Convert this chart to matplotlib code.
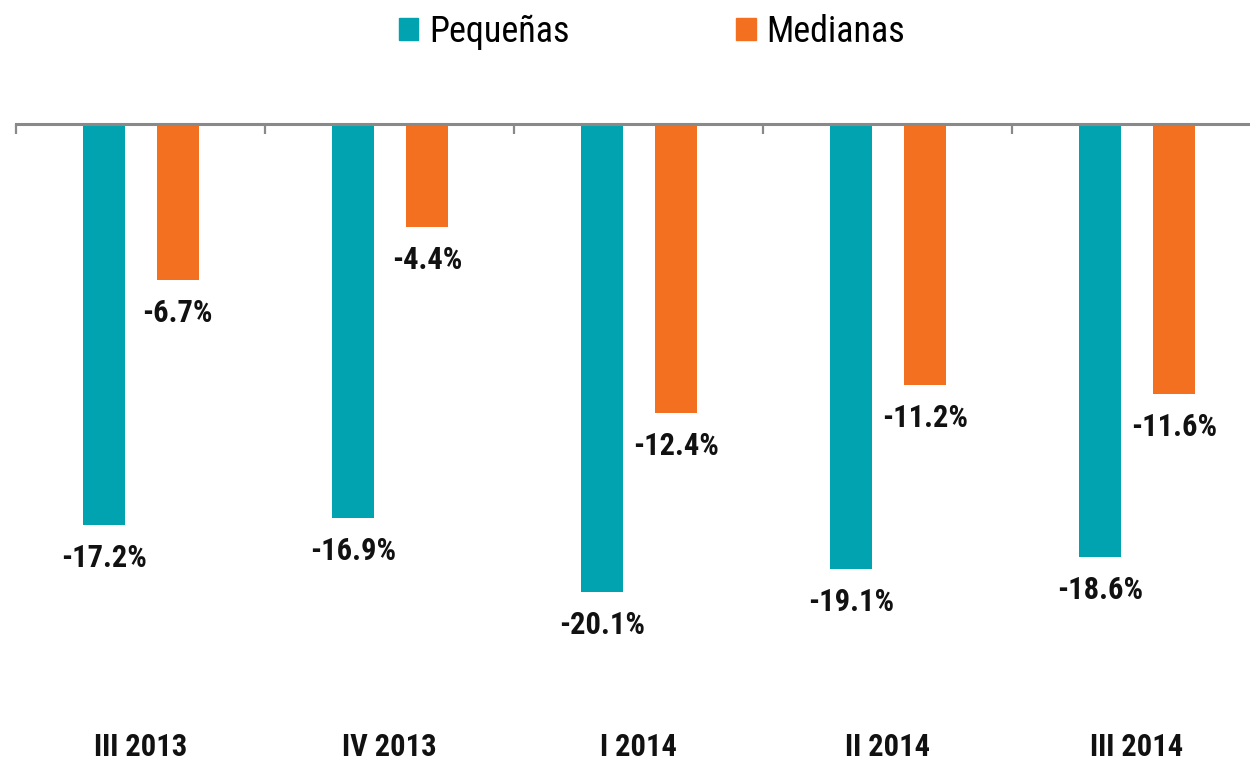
import matplotlib
matplotlib.use("Agg")
import matplotlib.pyplot as plt
import numpy as np
from matplotlib.patches import Patch

plt.rcParams["font.family"] = ["Liberation Sans Narrow", "Roboto Condensed", "DejaVu Sans"]

quarters = ["III 2013", "IV 2013", "I 2014", "II 2014", "III 2014"]
pequenas = [-17.2, -16.9, -20.1, -19.1, -18.6]
medianas = [-6.7, -4.4, -12.4, -11.2, -11.6]

TEAL = "#00A3AF"
ORANGE = "#F37021"
GREY = "#898989"

W, H = 1250, 760
fig = plt.figure(figsize=(W / 100, H / 100), dpi=100)
# axes: left edge at x=16px, zero line at y=124px, one group = 249px
ax = fig.add_axes([16 / W, 0.0, 5 * 249 / W, 1 - 124 / H])

x = np.arange(len(quarters))
bw = 0.169
b1 = ax.bar(x - 0.147, pequenas, bw, color=TEAL, zorder=2)
b2 = ax.bar(x + 0.15, medianas, bw, color=ORANGE, zorder=2)

px_per_unit = 23.3
ax.set_ylim(-(H - 124) / px_per_unit, 0)
ax.set_xlim(-0.5, len(quarters) - 0.5)

for bars in (b1, b2):
    for rect in bars:
        v = rect.get_height()
        ax.annotate(f"{v:.1f}%", (rect.get_x() + rect.get_width() / 2, v),
                    xytext=(0, -13), textcoords="offset points",
                    ha="center", va="top", fontsize=22, fontweight="bold", color="#111111")

# zero line with downward ticks at group boundaries
for s in ("left", "right", "bottom"):
    ax.spines[s].set_visible(False)
ax.spines["top"].set_color(GREY)
ax.spines["top"].set_linewidth(2.2)
ax.set_yticks([])
ax.set_xticks(np.arange(len(quarters) + 1) - 0.5)
ax.tick_params(axis="x", which="major", top=True, bottom=False, direction="in",
               length=7, width=1.6, color=GREY, labeltop=False, labelbottom=False)
ax.set_xticks(x, minor=True)
ax.set_xticklabels(quarters, minor=True)
ax.tick_params(axis="x", which="minor", bottom=True, top=False, length=0,
               labelbottom=True, labelsize=22, pad=-20)
for lab in ax.get_xticklabels(minor=True):
    lab.set_fontweight("bold")
    lab.set_color("#111111")

handles = [Patch(color=TEAL, label="Pequeñas"), Patch(color=ORANGE, label="Medianas")]
fig.legend(handles=handles, loc="center", bbox_to_anchor=(652 / W, 1 - 32 / H), ncol=2,
           frameon=False, fontsize=26, handlelength=0.55, handleheight=0.55,
           handletextpad=0.3, columnspacing=4.6)

fig.savefig("out.png", dpi=100)
